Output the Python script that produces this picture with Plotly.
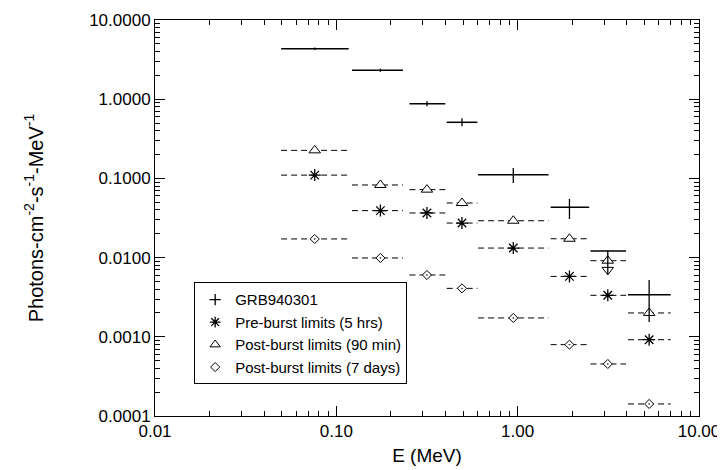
import plotly.graph_objects as go

# Energy bins (MeV)
e_center = [0.076, 0.175, 0.316, 0.493, 0.946, 1.93, 3.14, 5.31]
e_low = [0.0496, 0.122, 0.253, 0.406, 0.605, 1.52, 2.52, 4.06]
e_high = [0.117, 0.233, 0.399, 0.600, 1.48, 2.48, 3.96, 6.98]

# GRB940301 spectrum
grb_flux = [4.34, 2.32, 0.877, 0.511, 0.111, 0.0432, 0.0121, 0.0034]
grb_flux_hi = [4.51, 2.43, 0.943, 0.573, 0.135, 0.0550, 0.0121, 0.00521]
grb_flux_lo = [4.18, 2.21, 0.816, 0.455, 0.0875, 0.0307, 0.0061, 0.00154]
# upper-limit arrow head (bin 7)
arrow_e = [3.14]
arrow_flux = [0.0070]

# limits
pre_burst = [0.110, 0.0392, 0.0366, 0.0273, 0.0132, 0.00579, 0.00334, 0.000919]
post_90min = [0.226, 0.0826, 0.0721, 0.0489, 0.0292, 0.0173, 0.00914, 0.0020]
post_7days = [0.0172, 0.00989, 0.00603, 0.00409, 0.00173, 0.000796, 0.000454, 0.000142]

names = ["GRB940301", "Pre-burst limits (5 hrs)", "Post-burst limits (90 min)", "Post-burst limits (7 days)"]

FONT = "Liberation Sans, Arial, Helvetica, sans-serif"

fig = go.Figure()


def dashed_segments(vals):
    xs, ys = [], []
    for lo, hi, v in zip(e_low, e_high, vals):
        xs += [lo, hi, None]
        ys += [v, v, None]
    return xs, ys


# dashed bin-width lines for limits
for vals in (pre_burst, post_90min, post_7days):
    xs, ys = dashed_segments(vals)
    fig.add_trace(go.Scatter(x=xs, y=ys, mode="lines", showlegend=False,
                             line=dict(color="black", width=1, dash="6px,4px"),
                             hoverinfo="skip"))

# limit markers
fig.add_trace(go.Scatter(x=e_center, y=pre_burst, mode="markers", showlegend=False,
                         marker=dict(symbol="asterisk-open", size=10, color="black",
                                     line=dict(color="black", width=1.3))))
fig.add_trace(go.Scatter(x=e_center, y=post_90min, mode="markers", showlegend=False,
                         marker=dict(symbol="triangle-up", size=10, color="white",
                                     line=dict(color="black", width=1))))
fig.add_trace(go.Scatter(x=e_center, y=post_7days, mode="markers", showlegend=False,
                         marker=dict(symbol="diamond-dot", size=7, color="white",
                                     line=dict(color="black", width=1))))

# GRB data with error bars
fig.add_trace(go.Scatter(
    x=e_center, y=grb_flux, mode="markers", showlegend=False,
    marker=dict(size=1, color="black"),
    error_x=dict(type="data", symmetric=False,
                 array=[h - c for h, c in zip(e_high, e_center)],
                 arrayminus=[c - l for c, l in zip(e_center, e_low)],
                 color="black", thickness=1.5, width=0),
    error_y=dict(type="data", symmetric=False,
                 array=[h - f for h, f in zip(grb_flux_hi, grb_flux)],
                 arrayminus=[f - l for f, l in zip(grb_flux, grb_flux_lo)],
                 color="black", thickness=1.3, width=0),
))
fig.add_trace(go.Scatter(x=arrow_e, y=arrow_flux, mode="markers", showlegend=False,
                         marker=dict(symbol="triangle-down-open", size=10, color="black",
                                     line=dict(width=1))))

# legend entries
legend_symbols = [("cross-thin-open", 8, "black", 1.3),
                  ("asterisk-open", 9, "black", 1.3),
                  ("triangle-up-open", 9, "black", 1),
                  ("diamond-open", 7, "black", 1)]
for name, (sym, sz, col, lw) in zip(names, legend_symbols):
    fig.add_trace(go.Scatter(x=[None], y=[None], mode="markers", name=name,
                             marker=dict(symbol=sym, size=sz, color=col,
                                         line=dict(color="black", width=lw))))

axis_common = dict(type="log", showline=True, linecolor="black", linewidth=1,
                   mirror="ticks", ticks="inside", ticklen=10, tickcolor="black",
                   tickwidth=1, showgrid=False, zeroline=False, dtick=1,
                   automargin=False,
                   tickfont=dict(family=FONT, size=17, color="black"),
                   minor=dict(ticks="inside", ticklen=5, tickcolor="black",
                              tickwidth=1, dtick="D1", showgrid=False))

fig.update_xaxes(**axis_common, range=[-2, 1], tickformat=".2f",
                 title=dict(text="E (MeV)", font=dict(family=FONT, size=19, color="black"),
                            standoff=8))
fig.update_yaxes(**axis_common, range=[-4, 1], tickformat=".4f",
                 title=dict(text="Photons-cm<sup>-2</sup>-s<sup>-1</sup>-MeV<sup>-1</sup>",
                            font=dict(family=FONT, size=20, color="black"), standoff=40))

fig.update_layout(
    width=725, height=470,
    margin=dict(l=147, r=34, t=12, b=62, autoexpand=False),
    plot_bgcolor="white", paper_bgcolor="white",
    font=dict(family=FONT, color="black"),
    legend=dict(x=0.072, y=0.08, xanchor="left", yanchor="bottom",
                bgcolor="white", bordercolor="black", borderwidth=1,
                font=dict(family=FONT, size=15, color="black"),
                tracegroupgap=0, itemwidth=30),
)

fig.write_html("out.html")
